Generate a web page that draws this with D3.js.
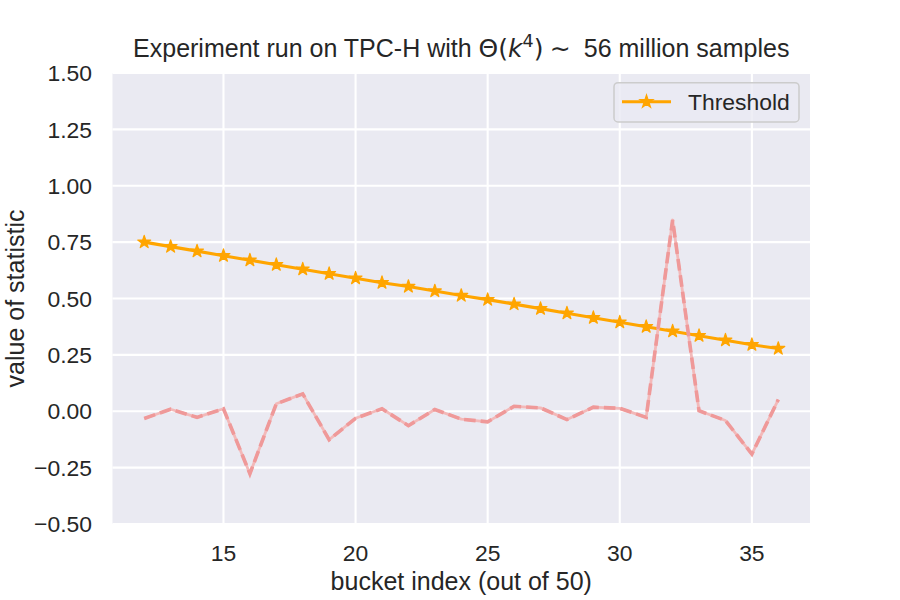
<!DOCTYPE html>
<html>
<head>
<meta charset="utf-8">
<script src="https://cdn.jsdelivr.net/npm/d3@7"></script>
<style>
  html, body { margin: 0; padding: 0; background: #ffffff; }
  svg { display: block; }
</style>
</head>
<body>
<svg id="chart" width="900" height="600"></svg>
<script>
const buckets = [12,13,14,15,16,17,18,19,20,21,22,23,24,25,26,27,28,29,30,31,32,33,34,35,36];
const threshold = [0.750,0.730,0.710,0.690,0.670,0.650,0.630,0.610,0.590,0.570,0.553,0.533,0.513,0.495,0.475,0.455,0.435,0.415,0.395,0.375,0.355,0.335,0.315,0.295,0.278];
const statistic = [-0.032,0.009,-0.027,0.011,-0.277,0.033,0.077,-0.126,-0.031,0.011,-0.064,0.008,-0.035,-0.047,0.022,0.015,-0.037,0.018,0.013,-0.027,0.848,0.002,-0.041,-0.190,0.052];
const xTicks = [15,20,25,30,35];
const yTicks = [-0.5,-0.25,0,0.25,0.5,0.75,1.0,1.25,1.5];
const titleText = "Experiment run on TPC-H with ";
const titleTail = " 56 million samples";
const xLabel = "bucket index (out of 50)";
const yLabel = "value of statistic";
const legendLabel = "Threshold";

const svg = d3.select("#chart");
const L = 112.5, R = 810, T = 73, B = 524;
const x = d3.scaleLinear().domain([10.8, 37.2]).range([L, R]);
const y = d3.scaleLinear().domain([-0.5, 1.5]).range([B, T]);
const font = "'Liberation Sans', Arial, sans-serif";
const textCol = "#262626";
const fmt = v => d3.format(".2f")(v).replace("-", "\u2212");

// background
svg.append("rect").attr("x", L).attr("y", T).attr("width", R - L).attr("height", B - T).attr("fill", "#eaeaf2");

// grid
svg.append("g").selectAll("line").data(xTicks).join("line")
  .attr("x1", d => x(d)).attr("x2", d => x(d)).attr("y1", T).attr("y2", B)
  .attr("stroke", "#ffffff").attr("stroke-width", 2.1);
svg.append("g").selectAll("line").data(yTicks).join("line")
  .attr("x1", L).attr("x2", R).attr("y1", d => y(d)).attr("y2", d => y(d))
  .attr("stroke", "#ffffff").attr("stroke-width", 2.1);

// tick labels
svg.append("g").selectAll("text").data(xTicks).join("text")
  .attr("x", d => x(d)).attr("y", 561).attr("text-anchor", "middle")
  .attr("font-family", font).attr("font-size", 22.9).attr("fill", textCol)
  .text(d => d);
svg.append("g").selectAll("text").data(yTicks).join("text")
  .attr("x", 92).attr("y", d => y(d)).attr("dy", "0.36em").attr("text-anchor", "end")
  .attr("font-family", font).attr("font-size", 22.9).attr("fill", textCol)
  .text(d => fmt(d));

// axis labels
svg.append("text").attr("x", (L + R) / 2).attr("y", 590).attr("text-anchor", "middle")
  .attr("font-family", font).attr("font-size", 25).attr("fill", textCol).text(xLabel);
svg.append("text").attr("transform", `translate(24,${(T + B) / 2}) rotate(-90)`).attr("text-anchor", "middle")
  .attr("font-family", font).attr("font-size", 25).attr("fill", textCol).text(yLabel);

// title
const title = svg.append("text").attr("x", (L + R) / 2).attr("y", 57).attr("text-anchor", "middle")
  .attr("font-family", font).attr("font-size", 25).attr("fill", textCol);
title.append("tspan").text(titleText);
title.append("tspan").attr("font-family", "'DejaVu Sans', sans-serif").text("\u0398(");
title.append("tspan").attr("font-family", "'DejaVu Sans', sans-serif").attr("font-style", "italic").text("k");
title.append("tspan").attr("font-family", "'DejaVu Sans', sans-serif").attr("font-size", 17.5).attr("dy", -10).text("4");
title.append("tspan").attr("font-family", "'DejaVu Sans', sans-serif").attr("dy", 10).text(")\u2005\u223C\u2005");
title.append("tspan").text(titleTail);

// threshold line
const pts = buckets.map((b, i) => ({ b, t: threshold[i], s: statistic[i] }));
const lineT = d3.line().x(d => x(d.b)).y(d => y(d.t));
svg.append("path").datum(pts).attr("d", lineT).attr("fill", "none")
  .attr("stroke", "#ffa500").attr("stroke-width", 3.1).attr("stroke-linejoin", "round");
const star = d3.symbol().type(d3.symbolStar).size(6.8 * 6.8 / 0.8908130915292852);
svg.append("g").selectAll("path").data(pts).join("path")
  .attr("d", star).attr("transform", d => `translate(${x(d.b)},${y(d.t)})`)
  .attr("fill", "#ffa500").attr("stroke", "#ffa500").attr("stroke-width", 1.2).attr("stroke-linejoin", "round");

// statistic line
const lineS = d3.line().x(d => x(d.b)).y(d => y(d.s));
svg.append("path").datum(pts).attr("d", lineS).attr("fill", "none")
  .attr("stroke", "#f3b9b9").attr("stroke-width", 2.8).attr("stroke-linejoin", "round");
svg.append("path").datum(pts).attr("d", lineS).attr("fill", "none")
  .attr("stroke", "#ef9999").attr("stroke-width", 3.6).attr("stroke-dasharray", "11.6,5");

// legend
const lg = svg.append("g");
lg.append("rect").attr("x", 614).attr("y", 82.7).attr("width", 185).attr("height", 39.3).attr("rx", 4)
  .attr("fill", "#eaeaf2").attr("fill-opacity", 0.8).attr("stroke", "#cccccc").attr("stroke-width", 1.5);
lg.append("line").attr("x1", 622).attr("x2", 671).attr("y1", 101.7).attr("y2", 101.7)
  .attr("stroke", "#ffa500").attr("stroke-width", 3.1);
lg.append("path").attr("d", star).attr("transform", "translate(646.5,101.7)")
  .attr("fill", "#ffa500").attr("stroke", "#ffa500").attr("stroke-width", 1.2);
lg.append("text").attr("x", 688).attr("y", 101.7).attr("dy", "0.36em")
  .attr("font-family", font).attr("font-size", 22.9).attr("fill", textCol).text(legendLabel);
</script>
</body>
</html>
